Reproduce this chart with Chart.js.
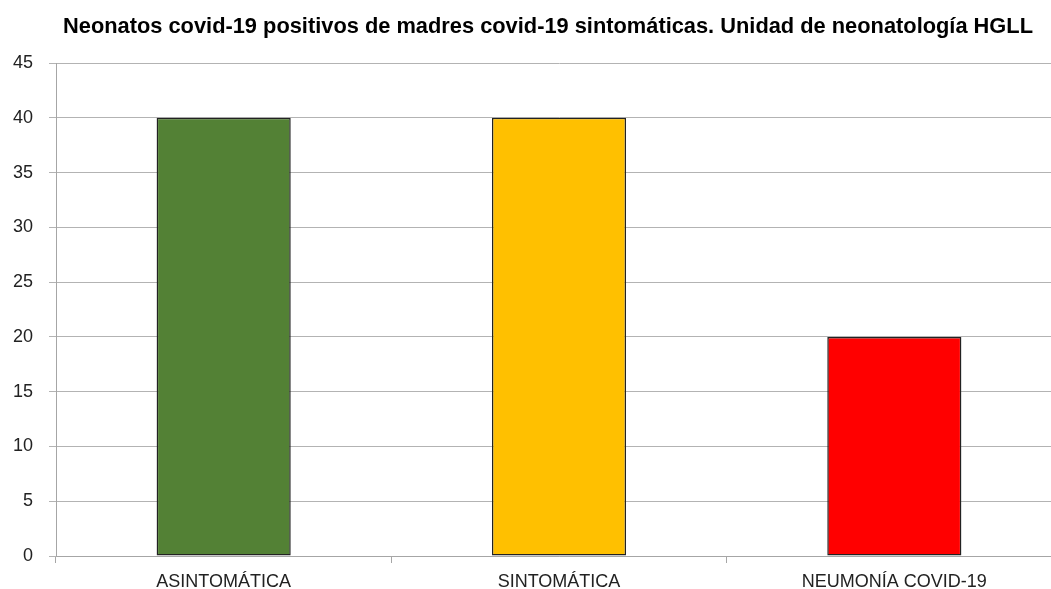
<!DOCTYPE html>
<html><head><meta charset="utf-8">
<script src="https://cdn.jsdelivr.net/npm/chart.js@4"></script>
<style>html,body{margin:0;padding:0;background:#fff;overflow:hidden;width:1051px;height:589px}#wrap{width:1062px;height:589px}</style>
</head><body><div id="wrap"><canvas id="c" width="1062" height="589"></canvas></div>
<script>
const titleText = 'Neonatos covid-19 positivos de madres covid-19 sintomáticas. Unidad de neonatología HGLL';
const categories = ['ASINTOMÁTICA', 'SINTOMÁTICA', 'NEUMONÍA COVID-19'];
const values = [40, 40, 20];
const barColors = ['#538135', '#FFC000', '#FF0000'];
const yTicks = {min: 0, max: 45, step: 5};

// Title drawn in a narrow (horizontally condensed) bold face, like Arial Narrow
const narrowTitle = {
  id: 'narrowTitle',
  afterDraw(chart) {
    const ctx = chart.ctx;
    ctx.save();
    ctx.font = "bold 22px 'Liberation Sans', Arial, sans-serif";
    ctx.fillStyle = '#000';
    ctx.textBaseline = 'middle';
    ctx.textAlign = 'center';
    const w = ctx.measureText(titleText).width;
    const sx = 970 / w;
    ctx.translate(548, 27);
    ctx.scale(sx, 1);
    ctx.fillText(titleText, 0, 0);
    ctx.restore();
  }
};

new Chart(document.getElementById('c'), {
  type: 'bar',
  data: { labels: categories, datasets: [{ data: values, backgroundColor: barColors, borderColor: '#222', borderWidth: 1.5, borderSkipped: false, barPercentage: 0.4, categoryPercentage: 1 }] },
  plugins: [narrowTitle],
  options: {
    responsive: false, animation: false,
    layout: { padding: { left: 0, right: 0, top: 63, bottom: 0 } },
    plugins: {
      legend: { display: false }, tooltip: { enabled: false }, title: { display: false }
    },
    scales: {
      x: {
        grid: { offset: true, drawOnChartArea: false, drawTicks: true, tickLength: 7, color: '#a6a6a6' },
        border: { color: '#a6a6a6', width: 1 },
        ticks: { color: '#222', padding: 8, font: { family: "'Liberation Sans',Arial,sans-serif", size: 18 }, maxRotation: 0 },
        afterFit: s => { s.height = 33; }
      },
      y: {
        min: yTicks.min, max: yTicks.max,
        grid: { color: '#b3b3b3', tickLength: 7, drawTicks: true },
        border: { color: '#a6a6a6', width: 1 },
        ticks: { stepSize: yTicks.step, color: '#222', padding: 16, font: { family: "'Liberation Sans',Arial,sans-serif", size: 18 } },
        afterFit: s => { s.width = 56; }
      }
    }
  }
});
</script></body></html>
